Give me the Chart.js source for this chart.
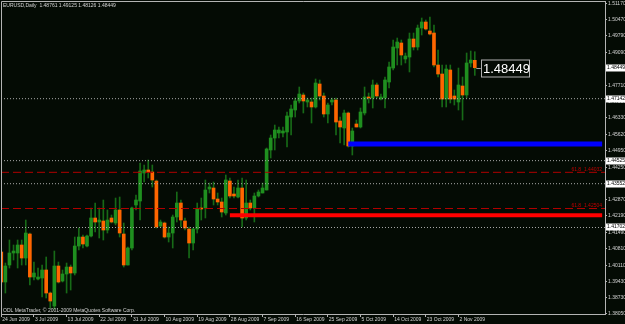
<!DOCTYPE html>
<html>
<head>
<meta charset="utf-8">
<script src="https://cdn.jsdelivr.net/npm/chart.js@4.4.0/dist/chart.umd.min.js"></script>
<style>
  html, body { margin: 0; padding: 0; background: #040b04; }
</style>
</head>
<body>
<canvas id="eurusdChart" width="625" height="324"></canvas>
<script>
// EURUSD daily bars, 24 Jun 2009 .. 6 Nov 2009 (broker sends Sunday bars too)
const opens = [
  1.40667, 1.39400, 1.40118, 1.40625, 1.40625, 1.40963, 1.40413, 1.41427, 1.39611, 1.39527,
  1.39569, 1.39907, 1.38935, 1.38386, 1.40076, 1.39442, 1.39738, 1.40033, 1.39780, 1.40920,
  1.41300, 1.40920, 1.41343, 1.42103, 1.41934, 1.41976, 1.41596, 1.42103, 1.41892, 1.42441,
  1.41427, 1.40118, 1.40836, 1.42652, 1.42821, 1.44003, 1.44130, 1.44046, 1.43665, 1.41765,
  1.41892, 1.41300, 1.41469, 1.42145, 1.42736, 1.41976, 1.41638, 1.41047, 1.41638, 1.42525,
  1.42525, 1.43327, 1.43370, 1.42905, 1.42779, 1.42314, 1.43665, 1.43116, 1.42990, 1.43370,
  1.42103, 1.42736, 1.42525, 1.43032, 1.43159, 1.43285, 1.44975, 1.45481, 1.45693, 1.45693,
  1.45735, 1.46368, 1.46664, 1.47044, 1.47297, 1.47002, 1.47002, 1.46791, 1.47762, 1.47255,
  1.46495, 1.47002, 1.47086, 1.46199, 1.45904, 1.46537, 1.45144, 1.46073, 1.45946, 1.46537,
  1.47213, 1.47171, 1.47720, 1.47128, 1.47171, 1.47846, 1.48437, 1.49282, 1.49493, 1.48818,
  1.48902, 1.49662, 1.49324, 1.50126, 1.50380, 1.50000, 1.49915, 1.48564, 1.48184, 1.47128,
  1.48353, 1.47255, 1.47002, 1.47677, 1.47297, 1.48649, 1.48761
];
const highs = [
  1.40836, 1.40202, 1.41174, 1.40963, 1.41174, 1.41174, 1.42018, 1.41469, 1.40245, 1.39991,
  1.40118, 1.40456, 1.38978, 1.40709, 1.40245, 1.39907, 1.40202, 1.40118, 1.41300, 1.41680,
  1.41385, 1.41385, 1.42525, 1.42736, 1.42525, 1.42863, 1.42441, 1.42229, 1.42947, 1.42990,
  1.41892, 1.40878, 1.42567, 1.43074, 1.44426, 1.44341, 1.44552, 1.44341, 1.43708, 1.42018,
  1.41934, 1.41723, 1.42229, 1.43201, 1.42863, 1.42103, 1.41723, 1.41680, 1.42736, 1.42947,
  1.43708, 1.43581, 1.43623, 1.43159, 1.42947, 1.43919, 1.43792, 1.43412, 1.43708, 1.43792,
  1.43708, 1.42863, 1.43159, 1.43285, 1.43581, 1.45059, 1.45608, 1.46030, 1.45946, 1.45946,
  1.46579, 1.46875, 1.47171, 1.47635, 1.47382, 1.47171, 1.47171, 1.47973, 1.47931, 1.47382,
  1.46960, 1.47171, 1.47171, 1.46368, 1.46664, 1.46579, 1.45904, 1.46241, 1.46748, 1.47635,
  1.47382, 1.47931, 1.47804, 1.47339, 1.48057, 1.48691, 1.49620, 1.49704, 1.49620, 1.49071,
  1.49915, 1.49915, 1.50253, 1.50549, 1.50464, 1.50591, 1.50253, 1.49198, 1.48564, 1.48564,
  1.48564, 1.47508, 1.48437, 1.48057, 1.49071, 1.49155, 1.49125
];
const lows = [
  1.39273, 1.38935, 1.39991, 1.40329, 1.39991, 1.40118, 1.40118, 1.39273, 1.39484, 1.39484,
  1.38766, 1.38724, 1.38302, 1.38259, 1.39358, 1.39400, 1.38935, 1.39062, 1.39696, 1.40751,
  1.40836, 1.40878, 1.41300, 1.41512, 1.41258, 1.41174, 1.41469, 1.41892, 1.41807, 1.41300,
  1.40033, 1.40118, 1.40751, 1.42441, 1.42018, 1.43623, 1.43792, 1.43412, 1.41680, 1.41723,
  1.41258, 1.41089, 1.40836, 1.41934, 1.41723, 1.41596, 1.40413, 1.40751, 1.41469, 1.42018,
  1.42103, 1.43159, 1.42652, 1.42652, 1.42145, 1.42229, 1.42947, 1.42947, 1.42947, 1.41723,
  1.42018, 1.42441, 1.41934, 1.42990, 1.43159, 1.43285, 1.44637, 1.44975, 1.45481, 1.45524,
  1.45101, 1.45608, 1.46368, 1.46960, 1.46537, 1.46791, 1.46115, 1.46748, 1.47086, 1.46368,
  1.46115, 1.46875, 1.45608, 1.45270, 1.45186, 1.45101, 1.44763, 1.45946, 1.45904, 1.46453,
  1.46960, 1.46748, 1.47171, 1.47086, 1.46748, 1.47593, 1.48353, 1.48564, 1.48564, 1.48649,
  1.48269, 1.49198, 1.49198, 1.49831, 1.50042, 1.49831, 1.48480, 1.48057, 1.46791, 1.46791,
  1.46960, 1.46875, 1.46664, 1.46241, 1.47171, 1.48480, 1.48126
];
const closes = [
  1.39400, 1.40076, 1.40625, 1.40709, 1.40963, 1.40413, 1.41469, 1.39611, 1.39780, 1.39611,
  1.39907, 1.38935, 1.38597, 1.40076, 1.39400, 1.39738, 1.40033, 1.39780, 1.40920, 1.41300,
  1.41005, 1.41343, 1.42103, 1.41934, 1.42018, 1.41596, 1.42018, 1.41934, 1.42441, 1.41469,
  1.40118, 1.40836, 1.42525, 1.42863, 1.44088, 1.44130, 1.44046, 1.43708, 1.41723, 1.41934,
  1.41300, 1.41469, 1.42145, 1.42736, 1.42018, 1.41680, 1.41047, 1.41638, 1.42483, 1.42483,
  1.43285, 1.43412, 1.42905, 1.42779, 1.42356, 1.43708, 1.43032, 1.43032, 1.43370, 1.42103,
  1.42736, 1.42525, 1.43032, 1.43201, 1.43370, 1.45017, 1.45481, 1.45819, 1.45819, 1.45777,
  1.46411, 1.46706, 1.47044, 1.47339, 1.47044, 1.47086, 1.46791, 1.47804, 1.47255, 1.46495,
  1.46875, 1.47086, 1.46157, 1.45946, 1.46537, 1.45144, 1.45777, 1.45946, 1.46579, 1.47213,
  1.47171, 1.47720, 1.47255, 1.47213, 1.47931, 1.48480, 1.49324, 1.49535, 1.48986, 1.48944,
  1.49662, 1.49324, 1.50126, 1.50380, 1.50084, 1.49873, 1.48564, 1.48184, 1.47128, 1.48395,
  1.47128, 1.47128, 1.47720, 1.47297, 1.48649, 1.48775, 1.48449
];

// date under every 8th bar
const dateTicks = ['24 Jun 2009', '3 Jul 2009', '13 Jul 2009', '22 Jul 2009', '31 Jul 2009',
  '10 Aug 2009', '19 Aug 2009', '28 Aug 2009', '7 Sep 2009', '16 Sep 2009', '25 Sep 2009',
  '5 Oct 2009', '14 Oct 2009', '23 Oct 2009', '2 Nov 2009'];

// price scale on the right
const priceTicks = [1.51170, 1.50470, 1.49790, 1.49090, 1.47710, 1.47030, 1.46330, 1.45620,
  1.44950, 1.44250, 1.42870, 1.42190, 1.41490, 1.40810, 1.40110, 1.39430, 1.38730, 1.38050];

// drawn objects
const dottedLevels = [1.47142, 1.44525, 1.43552, 1.41702];
const fiboLevels = [1.44032, 1.42504];
const fiboLabels = ['61.8  1.44032', '61.8  1.42504'];
const blueLevel = 1.45228, blueFrom = 85;
const redLevel = 1.42217, redFrom = 56;

const titleText = 'EURUSD,Daily  1.48761 1.49125 1.48126 1.48449';
const copyText = 'ODL MetaTrader, \u00a9 2001-2009 MetaQuotes Software Corp.';

const BG = '#040b04';
const BULL = '#1f8f1f';
const BEAR = '#ff6600';
const WICK = '#176a17';
const AXIS = '#b4b4b4';
const TXT = '#d4d4d4';
const X_MIN = -0.07, X_MAX = 147.9, LINE_END = 147.2;
const SMALL = '5px "Liberation Sans"';

Chart.defaults.font.family = '"Liberation Sans", Arial, sans-serif';

const last = closes.length - 1;
const bodyColors = closes.map((c, i) => (c >= opens[i] ? BULL : BEAR));

function levelLine(value, from, to, color, width, dash) {
  return {
    type: 'line',
    data: [{ x: from, y: value }, { x: to, y: value }],
    borderColor: color,
    borderWidth: width,
    borderDash: dash,
    pointRadius: 0,
    order: -1
  };
}

const overlay = {
  id: 'overlay',
  beforeDraw(chart) {
    const c = chart.ctx;
    c.save();
    c.fillStyle = BG;
    c.fillRect(0, 0, chart.width, chart.height);
    c.restore();
  },
  afterDraw(chart) {
    const { ctx, chartArea: a, scales: { x, y } } = chart;
    ctx.save();
    // frame (top + left)
    ctx.strokeStyle = AXIS;
    ctx.lineWidth = 1;
    ctx.beginPath();
    ctx.moveTo(a.left + 0.5, a.bottom);
    ctx.lineTo(a.left + 0.5, a.top + 0.5);
    ctx.lineTo(a.right, a.top + 0.5);
    ctx.stroke();

    ctx.font = SMALL;
    ctx.fillStyle = TXT;
    ctx.textAlign = 'left';
    ctx.textBaseline = 'middle';
    ctx.fillText(titleText, 3, 5.5);
    ctx.fillText(copyText, 3, 311);

    // fibo labels
    ctx.fillStyle = '#c00000';
    ctx.textAlign = 'right';
    ctx.textBaseline = 'bottom';
    fiboLevels.forEach((v, i) => ctx.fillText(fiboLabels[i], a.right - 3, y.getPixelForValue(v) - 0.5));

    // highlighted prices on the axis
    ctx.textAlign = 'left';
    ctx.textBaseline = 'middle';
    [closes[last], ...dottedLevels].forEach(v => {
      const py = Math.round(y.getPixelForValue(v));
      ctx.fillStyle = '#ffffff';
      ctx.fillRect(a.right + 1, py - 3.5, 20, 7);
      ctx.fillStyle = '#000000';
      ctx.fillText(v.toFixed(5), a.right + 2, py);
    });

    // price label next to the last bar
    const cx = x.getPixelForValue(last);
    const cy = Math.round(y.getPixelForValue(closes[last])) + 0.5;
    ctx.strokeStyle = '#a0a0a0';
    ctx.beginPath();
    ctx.moveTo(cx + 1.5, cy);
    ctx.lineTo(cx + 6, cy);
    ctx.stroke();
    ctx.strokeStyle = '#b0b0b0';
    ctx.strokeRect(Math.round(cx + 6) + 0.5, cy - 8.5, 48, 17);
    ctx.fillStyle = '#ffffff';
    ctx.font = '13px "Liberation Sans"';
    ctx.fillText(closes[last].toFixed(5), Math.round(cx + 6) + 2, cy + 0.5);
    ctx.restore();
  }
};

const ctx = document.getElementById('eurusdChart').getContext('2d');

const chart = new Chart(ctx, {
  type: 'bar',
  data: {
    datasets: [
      {
        label: 'body',
        data: opens.map((o, i) => ({ x: i, y: [o, closes[i]] })),
        backgroundColor: bodyColors,
        barThickness: 3,
        minBarLength: 1,
        grouped: false,
        order: 0
      },
      {
        label: 'wick',
        data: lows.map((l, i) => ({ x: i, y: [l, highs[i]] })),
        backgroundColor: WICK,
        barThickness: 1,
        grouped: false,
        order: 1
      },
      ...dottedLevels.map(v => levelLine(v, X_MIN, X_MAX, '#a8a8a8', 1, [1, 2])),
      ...fiboLevels.map(v => levelLine(v, X_MIN, X_MAX, '#b00000', 1, [8, 4])),
      levelLine(blueLevel, blueFrom, LINE_END, '#0000ff', 5, []),
      levelLine(redLevel, redFrom, LINE_END, '#ff0000', 4, [])
    ]
  },
  options: {
    responsive: false,
    animation: false,
    layout: { padding: { left: 1, top: 1, right: 0, bottom: 0 } },
    plugins: {
      legend: { display: false },
      tooltip: { enabled: false }
    },
    scales: {
      x: {
        type: 'linear',
        offset: false,
        min: X_MIN,
        max: X_MAX,
        afterBuildTicks: s => { s.ticks = dateTicks.map((d, k) => ({ value: k * 8 })); },
        afterFit: s => { s.height = 10; s.paddingLeft = 0; s.paddingRight = 0; },
        ticks: {
          callback: (v, i) => dateTicks[i],
          align: 'start',
          maxRotation: 0,
          autoSkip: false,
          padding: 0,
          labelOffset: 1,
          color: TXT,
          font: { size: 5 }
        },
        grid: { drawOnChartArea: false, offset: false, tickLength: 3, color: AXIS },
        border: { color: AXIS }
      },
      y: {
        position: 'right',
        min: 1.38049,
        max: 1.51267,
        afterBuildTicks: s => { s.ticks = priceTicks.map(v => ({ value: v })); },
        afterFit: s => { s.width = 20; s.paddingTop = 0; s.paddingBottom = 0; },
        ticks: {
          callback: v => v.toFixed(5),
          padding: 1,
          color: TXT,
          font: { size: 5 }
        },
        grid: { drawOnChartArea: false, tickLength: 2, color: AXIS },
        border: { color: AXIS }
      }
    }
  },
  plugins: [overlay]
});
</script>
</body>
</html>
